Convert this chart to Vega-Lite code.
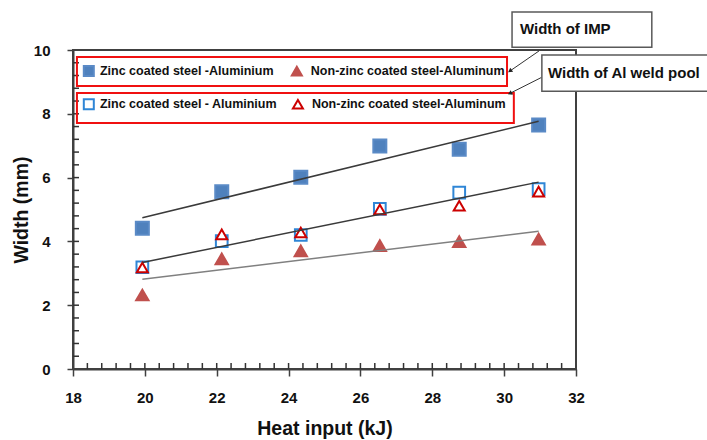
{
  "$schema": "https://vega.github.io/schema/vega-lite/v6.json",
  "width": 503,
  "height": 319,
  "autosize": "none",
  "padding": {"left": 73, "top": 50, "right": 131, "bottom": 71},
  "background": "white",
  "config": {
    "view": {"stroke": "#404040", "strokeWidth": 2},
    "font": "Liberation Sans",
    "axis": {"domainColor": "#404040", "tickColor": "#404040", "domainWidth": 2, "tickWidth": 1.5, "grid": false}
  },
  "datasets": {
    "points": [
      {"series": "zinc_imp", "x": 19.93, "y": 4.41},
      {"series": "zinc_imp", "x": 22.14, "y": 5.56},
      {"series": "zinc_imp", "x": 24.34, "y": 6.01},
      {"series": "zinc_imp", "x": 26.54, "y": 6.99},
      {"series": "zinc_imp", "x": 28.75, "y": 6.89},
      {"series": "zinc_imp", "x": 30.96, "y": 7.65},
      {"series": "nonzinc_imp", "x": 19.93, "y": 2.32},
      {"series": "nonzinc_imp", "x": 22.14, "y": 3.45},
      {"series": "nonzinc_imp", "x": 24.34, "y": 3.70},
      {"series": "nonzinc_imp", "x": 26.54, "y": 3.87},
      {"series": "nonzinc_imp", "x": 28.75, "y": 3.99},
      {"series": "nonzinc_imp", "x": 30.96, "y": 4.07},
      {"series": "zinc_pool", "x": 19.93, "y": 3.19},
      {"series": "zinc_pool", "x": 22.14, "y": 4.01},
      {"series": "zinc_pool", "x": 24.34, "y": 4.20},
      {"series": "zinc_pool", "x": 26.54, "y": 5.02},
      {"series": "zinc_pool", "x": 28.75, "y": 5.53},
      {"series": "zinc_pool", "x": 30.96, "y": 5.64},
      {"series": "nonzinc_pool", "x": 19.93, "y": 3.18},
      {"series": "nonzinc_pool", "x": 22.14, "y": 4.22},
      {"series": "nonzinc_pool", "x": 24.34, "y": 4.28},
      {"series": "nonzinc_pool", "x": 26.54, "y": 5.00},
      {"series": "nonzinc_pool", "x": 28.75, "y": 5.12},
      {"series": "nonzinc_pool", "x": 30.96, "y": 5.56}
    ],
    "minorX": [
      {"v": 18.4}, {"v": 18.8}, {"v": 19.2}, {"v": 19.6}, {"v": 20}, {"v": 20.4}, {"v": 20.8}, {"v": 21.2}, {"v": 21.6}, {"v": 22},
      {"v": 22.4}, {"v": 22.8}, {"v": 23.2}, {"v": 23.6}, {"v": 24}, {"v": 24.4}, {"v": 24.8}, {"v": 25.2}, {"v": 25.6}, {"v": 26},
      {"v": 26.4}, {"v": 26.8}, {"v": 27.2}, {"v": 27.6}, {"v": 28}, {"v": 28.4}, {"v": 28.8}, {"v": 29.2}, {"v": 29.6}, {"v": 30},
      {"v": 30.4}, {"v": 30.8}, {"v": 31.2}, {"v": 31.6}
    ],
    "minorY": [
      {"v": 0.4}, {"v": 0.8}, {"v": 1.2}, {"v": 1.6}, {"v": 2}, {"v": 2.4}, {"v": 2.8}, {"v": 3.2}, {"v": 3.6}, {"v": 4},
      {"v": 4.4}, {"v": 4.8}, {"v": 5.2}, {"v": 5.6}, {"v": 6}, {"v": 6.4}, {"v": 6.8}, {"v": 7.2}, {"v": 7.6}, {"v": 8},
      {"v": 8.4}, {"v": 8.8}, {"v": 9.2}, {"v": 9.6}
    ],
    "legendBoxes": [
      {"x": 18.11, "x2": 30.08, "y": 9.78, "y2": 8.87},
      {"x": 18.11, "x2": 30.27, "y": 8.65, "y2": 7.71}
    ],
    "legendItems": [
      {"series": "zinc_imp", "sx": 18.44, "tx": 18.75, "y": 9.34, "label": "Zinc coated steel -Aluminium"},
      {"series": "nonzinc_imp", "sx": 24.23, "tx": 24.62, "y": 9.34, "label": "Non-zinc coated steel-Aluminum"},
      {"series": "zinc_pool", "sx": 18.44, "tx": 18.75, "y": 8.3, "label": "Zinc coated steel - Aluminium"},
      {"series": "nonzinc_pool", "sx": 24.26, "tx": 24.65, "y": 8.3, "label": "Non-zinc coated steel-Aluminum"}
    ],
    "callouts": [
      {"x": 30.22, "x2": 34.11, "y": 11.19, "y2": 10.09, "tx": 30.44, "ty": 10.66, "label": "Width of IMP"},
      {"x": 31.05, "x2": 35.9, "y": 9.84, "y2": 8.71, "tx": 31.22, "ty": 9.28, "label": "Width of Al weld pool"}
    ],
    "arrows": [
      {"x": 30.97, "y": 9.97, "x2": 30.16, "y2": 9.34, "angle": 145},
      {"x": 31.04, "y": 9.14, "x2": 30.16, "y2": 8.64, "angle": 153}
    ]
  },
  "layer": [
    {
      "data": {"name": "points"},
      "mark": {"type": "point", "opacity": 0},
      "encoding": {
        "x": {
          "field": "x", "type": "quantitative",
          "scale": {"domain": [18, 32], "nice": false, "zero": false},
          "axis": {
            "orient": "bottom", "values": [18, 20, 22, 24, 26, 28, 30, 32], "tickSize": 7,
            "labelFont": "Liberation Sans", "labelFontSize": 15, "labelFontWeight": "bold", "labelColor": "#111111",
            "labelPadding": 14, "labelFlush": false,
            "title": "Heat input (kJ)", "titleFont": "Liberation Sans", "titleFontSize": 19.5, "titleFontWeight": "bold",
            "titleColor": "#111111", "titlePadding": 14
          }
        },
        "y": {
          "field": "y", "type": "quantitative",
          "scale": {"domain": [0, 10], "nice": false, "zero": true},
          "axis": {
            "orient": "left", "values": [0, 2, 4, 6, 8, 10], "tickSize": 6,
            "labelFont": "Liberation Sans", "labelFontSize": 15, "labelFontWeight": "bold", "labelColor": "#111111",
            "labelPadding": 17, "labelFlush": false,
            "title": "Width (mm)", "titleFont": "Liberation Sans", "titleFontSize": 19.5, "titleFontWeight": "bold",
            "titleColor": "#111111", "titlePadding": 2
          }
        }
      }
    },
    {
      "data": {"name": "minorX"},
      "mark": {"type": "tick", "orient": "vertical", "color": "#333333", "size": 6, "thickness": 1.5, "yOffset": -3, "opacity": 1, "clip": false},
      "encoding": {
        "x": {"field": "v", "type": "quantitative"},
        "y": {"datum": 0, "type": "quantitative"}
      }
    },
    {
      "data": {"name": "minorY"},
      "mark": {"type": "tick", "orient": "horizontal", "color": "#333333", "size": 6, "thickness": 1.5, "xOffset": 3, "opacity": 1, "clip": false},
      "encoding": {
        "y": {"field": "v", "type": "quantitative"},
        "x": {"datum": 18, "type": "quantitative"}
      }
    },
    {
      "data": {"name": "legendBoxes"},
      "mark": {"type": "rect", "fill": "transparent", "stroke": "#f01010", "strokeWidth": 2, "clip": false},
      "encoding": {
        "x": {"field": "x", "type": "quantitative"},
        "x2": {"field": "x2"},
        "y": {"field": "y", "type": "quantitative"},
        "y2": {"field": "y2"}
      }
    },
    {
      "data": {"name": "points"},
      "mark": {"type": "point", "filled": false, "strokeWidth": 2, "opacity": 1, "clip": false},
      "encoding": {
        "x": {"field": "x", "type": "quantitative"},
        "y": {"field": "y", "type": "quantitative"},
        "shape": {"field": "series", "type": "nominal", "legend": null,
          "scale": {"domain": ["zinc_imp", "nonzinc_imp", "zinc_pool", "nonzinc_pool"], "range": ["square", "triangle-up", "square", "triangle-up"]}},
        "fill": {"field": "series", "type": "nominal", "legend": null,
          "scale": {"domain": ["zinc_imp", "nonzinc_imp", "zinc_pool", "nonzinc_pool"], "range": ["#4F81BD", "#C0504D", "white", "white"]}},
        "stroke": {"field": "series", "type": "nominal", "legend": null,
          "scale": {"domain": ["zinc_imp", "nonzinc_imp", "zinc_pool", "nonzinc_pool"], "range": ["#5A8AC6", "#C0504D", "#2F86D6", "#CC0000"]}},
        "size": {"field": "series", "type": "ordinal", "legend": null,
          "scale": {"domain": ["zinc_imp", "nonzinc_imp", "zinc_pool", "nonzinc_pool"], "range": [169, 121, 121, 100]}}
      }
    },
    {
      "data": {"name": "points"},
      "transform": [{"filter": "datum.series == 'zinc_imp'"}, {"regression": "y", "on": "x"}],
      "mark": {"type": "line", "color": "#3a3a3a", "strokeWidth": 1.5},
      "encoding": {
        "x": {"field": "x", "type": "quantitative"},
        "y": {"field": "y", "type": "quantitative"}
      }
    },
    {
      "data": {"name": "points"},
      "transform": [{"filter": "datum.series == 'zinc_pool'"}, {"regression": "y", "on": "x"}],
      "mark": {"type": "line", "color": "#3a3a3a", "strokeWidth": 1.5},
      "encoding": {
        "x": {"field": "x", "type": "quantitative"},
        "y": {"field": "y", "type": "quantitative"}
      }
    },
    {
      "data": {"name": "points"},
      "transform": [{"filter": "datum.series == 'nonzinc_imp'"}, {"regression": "y", "on": "x"}],
      "mark": {"type": "line", "color": "#808080", "strokeWidth": 1.5},
      "encoding": {
        "x": {"field": "x", "type": "quantitative"},
        "y": {"field": "y", "type": "quantitative"}
      }
    },
    {
      "data": {"name": "legendItems"},
      "mark": {"type": "point", "filled": false, "strokeWidth": 2, "opacity": 1, "size": 100, "clip": false},
      "encoding": {
        "x": {"field": "sx", "type": "quantitative"},
        "y": {"field": "y", "type": "quantitative"},
        "shape": {"field": "series", "type": "nominal", "legend": null},
        "fill": {"field": "series", "type": "nominal", "legend": null},
        "stroke": {"field": "series", "type": "nominal", "legend": null}
      }
    },
    {
      "data": {"name": "legendItems"},
      "mark": {"type": "text", "align": "left", "baseline": "middle", "font": "Liberation Sans", "fontSize": 12.5, "fontWeight": "bold", "color": "#111111", "clip": false},
      "encoding": {
        "x": {"field": "tx", "type": "quantitative"},
        "y": {"field": "y", "type": "quantitative"},
        "text": {"field": "label"}
      }
    },
    {
      "data": {"name": "arrows"},
      "mark": {"type": "rule", "color": "#333333", "strokeWidth": 1, "clip": false},
      "encoding": {
        "x": {"field": "x", "type": "quantitative"},
        "y": {"field": "y", "type": "quantitative"},
        "x2": {"field": "x2"},
        "y2": {"field": "y2"}
      }
    },
    {
      "data": {"name": "arrows"},
      "mark": {"type": "point", "shape": "triangle-right", "filled": true, "color": "#222222", "size": 25, "opacity": 1, "clip": false},
      "encoding": {
        "x": {"field": "x2", "type": "quantitative"},
        "y": {"field": "y2", "type": "quantitative"},
        "angle": {"field": "angle", "type": "quantitative", "scale": null}
      }
    },
    {
      "data": {"name": "callouts"},
      "mark": {"type": "rect", "fill": "white", "stroke": "#595959", "strokeWidth": 1.5, "clip": false},
      "encoding": {
        "x": {"field": "x", "type": "quantitative"},
        "x2": {"field": "x2"},
        "y": {"field": "y", "type": "quantitative"},
        "y2": {"field": "y2"}
      }
    },
    {
      "data": {"name": "callouts"},
      "mark": {"type": "text", "align": "left", "baseline": "middle", "font": "Liberation Sans", "fontSize": 15, "fontWeight": "bold", "color": "#111111", "clip": false},
      "encoding": {
        "x": {"field": "tx", "type": "quantitative"},
        "y": {"field": "ty", "type": "quantitative"},
        "text": {"field": "label"}
      }
    }
  ]
}
